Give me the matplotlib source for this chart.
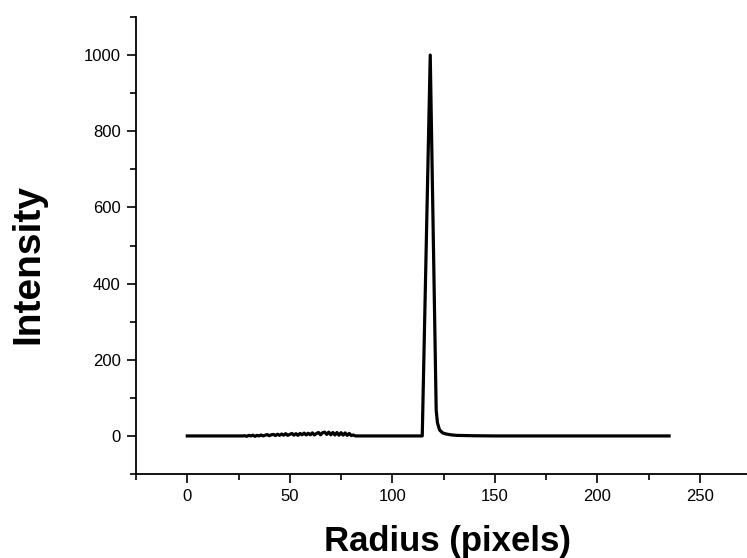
import matplotlib
matplotlib.use("Agg")
import matplotlib.pyplot as plt
from matplotlib.ticker import MultipleLocator

plt.rcParams["font.family"] = ["Liberation Sans", "DejaVu Sans"]

# baseline before the noisy stretch
base_r = [0, 10, 20, 27]
base_i = [0, 0, 0, 0]

# small ripples between ~28 and ~82 px
noise_r = list(range(28, 83))
noise_i = [0.5, -1, 1.5, 0, 2, -1, 1.5, 0, 2.5, 0,
           2, 3.5, 0.5, 3, 4, 1, 4.5, 1.5, 5, 2,
           6, 1.5, 4, 6.5, 2, 6, 1.5, 6.5, 3, 7.5,
           2.5, 7, 3, 8, 2.5, 6.5, 9, 3, 8.5, 10,
           4, 10, 3, 9, 2.5, 9, 2, 8.5, 2, 8,
           1.5, 6.5, 1, 2.5, 0]

# ring peak and tail
peak_r = [100, 114.6, 118.5, 121.4, 122.0, 123.0, 124.5, 126.3, 128.5, 131.2, 140, 150, 200, 235]
peak_i = [0, 0, 1000, 68, 35, 16, 8, 5, 3, 1.5, 0.5, 0, 0, 0]

radius = base_r + noise_r + peak_r
intensity = base_i + noise_i + peak_i

fig = plt.figure(figsize=(7.47, 5.58), dpi=100)
ax = fig.add_axes([0.1821, 0.1505, 0.8179, 0.819])

ax.plot(radius, intensity, color="black", lw=2.3, solid_joinstyle="round")

ax.set_xlim(-25, 273)
ax.set_ylim(-100, 1100)
ax.xaxis.set_major_locator(MultipleLocator(50))
ax.xaxis.set_minor_locator(MultipleLocator(25))
ax.yaxis.set_major_locator(MultipleLocator(200))
ax.yaxis.set_minor_locator(MultipleLocator(100))

for s in ["top", "right"]:
    ax.spines[s].set_visible(False)
for s in ["left", "bottom"]:
    ax.spines[s].set_linewidth(1.3)

ax.tick_params(which="major", direction="out", length=6.5, width=1.2, labelsize=12, pad=4.5)
ax.tick_params(which="minor", direction="out", length=4, width=1.2)

ax.set_xlabel("Radius (pixels)", fontsize=25, fontweight="bold", va="baseline")
ax.xaxis.set_label_coords(0.51, -0.1685)
ax.set_ylabel("Intensity", fontsize=28, fontweight="bold", va="center")
ax.yaxis.set_label_coords(-0.1768, 0.4595)

fig.savefig("out.png", dpi=100)
